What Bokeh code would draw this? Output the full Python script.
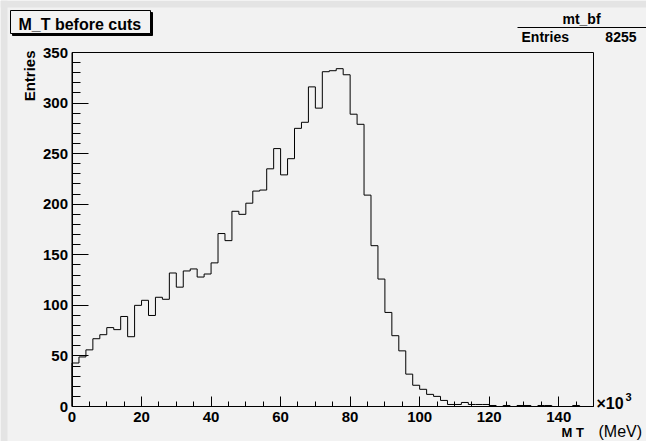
import numpy as np
from math import pi
from bokeh.plotting import figure
from bokeh.models import Range1d, FixedTicker, Label, BoxAnnotation
from bokeh.embed import file_html
from bokeh.resources import INLINE

# ---------------- data ----------------
hist_name = "mt_bf"
title_text = "M_T before cuts"
entries_label = "Entries"
n_entries = 8255
x_low, x_high, n_bins = 0, 150, 75   # x in units of 10^3 MeV
y_low, y_high = 0, 350
counts = [43, 49, 56, 67, 71, 78, 76, 89, 69, 100,
          105, 90, 108, 106, 132, 118, 134, 136, 128, 131,
          142, 171, 164, 193, 190, 201, 213, 214, 235, 255,
          229, 245, 275, 281, 316, 295, 331, 332, 334, 328,
          289, 279, 209, 159, 126, 93, 70, 55, 32, 21,
          17, 12, 10, 6, 2, 2, 4, 2, 2, 2,
          1, 0, 1, 0, 1, 1, 0, 1, 1, 0,
          0, 0, 1, 0, 0]
x_ticks = [0, 20, 40, 60, 80, 100, 120, 140]
x_minor = [v for v in range(0, 150, 5) if v % 20 != 0]
y_ticks = [0, 50, 100, 150, 200, 250, 300, 350]
y_minor = [v for v in range(0, 351, 10) if v % 50 != 0]

FONT = "Liberation Sans"
BG = "#f2f2f2"
EDGE = "#e4e4e4"

W, H = 646, 441
# where the histogram box sits on the page (px)
PX0, PX1 = 71.5, 593.0     # x_low, x_high
PY0, PY1 = 406.0, 52.0     # y_low, y_high
kx = (PX1 - PX0) / (x_high - x_low)
ky = (PY0 - PY1) / (y_high - y_low)
xr = Range1d(x_low - PX0 / kx, x_high + (W - PX1) / kx)
yr = Range1d(y_low - (H - PY0) / ky, y_high + PY1 / ky)

p = figure(width=W, height=H, output_backend="svg", toolbar_location=None,
           title=None, x_range=xr, y_range=yr,
           min_border=0, min_border_left=0, min_border_right=0,
           min_border_top=0, min_border_bottom=0)
p.background_fill_color = BG
p.border_fill_color = BG
p.outline_line_color = None
p.xgrid.visible = False
p.ygrid.visible = False


def sx(X):
    return X


def sy(Y):
    return H - Y


def sbox(l, t, r, b, **kw):
    p.add_layout(BoxAnnotation(left=sx(l), right=sx(r), top=sy(t), bottom=sy(b),
                               left_units="screen", right_units="screen",
                               top_units="screen", bottom_units="screen", **kw))


# darker page edge strips
sbox(0, 0, 7, H, fill_color=EDGE, fill_alpha=1, line_alpha=0)
sbox(0, 0, W, 7, fill_color=EDGE, fill_alpha=1, line_alpha=0)

# axes at fixed positions
p.xaxis.fixed_location = y_low
p.yaxis.fixed_location = x_low
p.xaxis.bounds = (x_low, x_high)
p.yaxis.bounds = (y_low, y_high)
p.xaxis.ticker = FixedTicker(ticks=x_ticks, minor_ticks=x_minor)
p.yaxis.ticker = FixedTicker(ticks=y_ticks, minor_ticks=y_minor)
for ax in (p.xaxis, p.yaxis):
    ax.axis_line_color = "black"
    ax.major_tick_line_color = "black"
    ax.minor_tick_line_color = "black"
    ax.major_tick_out = 0
    ax.minor_tick_out = 0
    ax.major_label_text_font = FONT
    ax.major_label_text_font_style = "bold"
    ax.major_label_text_font_size = "15px"
    ax.major_label_text_color = "black"
p.xaxis.major_tick_in = 10
p.xaxis.minor_tick_in = 5
p.yaxis.major_tick_in = 16
p.yaxis.minor_tick_in = 8
p.yaxis.major_label_standoff = 4
p.xaxis.major_label_standoff = 5

# frame box (top / right edges)
p.add_layout(BoxAnnotation(left=x_low, right=x_high, bottom=y_low, top=y_high,
                           fill_alpha=0, line_color="black", line_alpha=1, line_width=1))

# histogram outline
edges = np.linspace(x_low, x_high, n_bins + 1)
xs = np.repeat(edges, 2)
ys = np.concatenate([[0], np.repeat(np.array(counts, dtype=float), 2), [0]])
p.line(xs, ys, line_color="black", line_width=1)

# title box with shadow
sbox(12, 12, 152, 35, fill_color="black", fill_alpha=1, line_color="black", line_alpha=1)
sbox(10, 10, 150, 33, fill_color=BG, fill_alpha=1, line_color="black", line_alpha=1, line_width=1)

SHIFT = 0.25


def lab(text, X, Y, size, style="bold", align="left", angle=0):
    if angle:
        X = X - SHIFT * size
    else:
        Y = Y - SHIFT * size
    p.add_layout(Label(text=text, x=sx(X), y=sy(Y), x_units="screen", y_units="screen",
                       text_font=FONT, text_font_style=style, text_font_size=f"{size}px",
                       text_align=align, text_baseline="alphabetic", angle=angle,
                       text_color="black"))


lab(title_text, 18, 27.5, 16)

# stats box
lab(hist_name, 581, 21.5, 14, align="center")
sbox(517, 26.5, W, 27.5, fill_color="black", fill_alpha=1, line_alpha=0)
lab(entries_label, 521, 39.5, 14)
lab(str(n_entries), 636, 39.5, 14, align="right")

# axis titles
lab("Entries", 32.5, 50, 15, align="right", angle=pi / 2)
lab("\u00d710", 596, 407, 16)
lab("3", 625, 399, 11)
lab("M", 561, 435.5, 13)
lab("T", 575.5, 435.5, 13)
lab("(MeV)", 598, 435, 16, style="normal")

open("out.html", "w").write(file_html(p, INLINE))
